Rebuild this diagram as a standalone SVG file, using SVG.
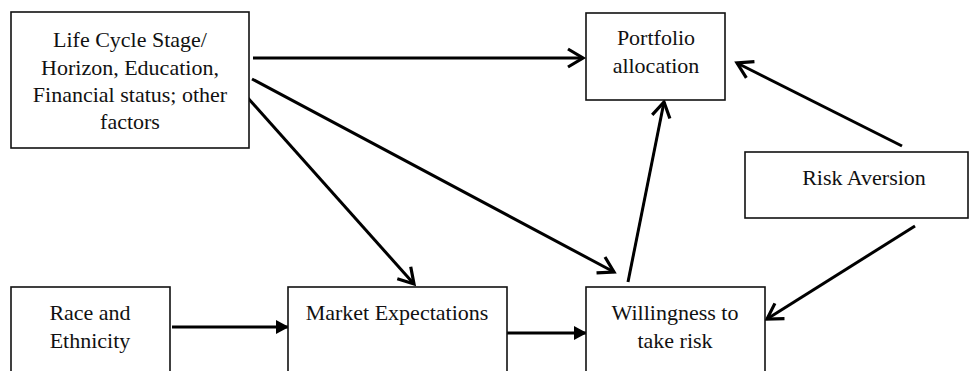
<svg xmlns="http://www.w3.org/2000/svg" width="970" height="371" viewBox="0 0 970 371">
<style>
.box{fill:#fff;stroke:#111;stroke-width:1.6}
.t{font-family:"Liberation Serif","Times New Roman",serif;font-size:22px;fill:#111;text-anchor:middle}
.c{fill:none;stroke:#000;stroke-width:3}
</style>
<defs>
<marker id="open" markerUnits="userSpaceOnUse" markerWidth="24" markerHeight="24" refX="16" refY="10" orient="auto" overflow="visible">
<path d="M1,1 L16,10 L1,19" fill="none" stroke="#000" stroke-width="3.2" stroke-linejoin="miter"/>
</marker>
<marker id="fill" markerUnits="userSpaceOnUse" markerWidth="16" markerHeight="16" refX="13" refY="7" orient="auto">
<path d="M0,0 L13,7 L0,14 z" fill="#000"/>
</marker>
</defs>
<rect width="970" height="371" fill="#fff"/>
<g id="connectors">
<line class="c" x1="253" y1="58" x2="583" y2="58" marker-end="url(#open)"/>
<line class="c" x1="252" y1="79" x2="614" y2="272" marker-end="url(#open)"/>
<line class="c" x1="247" y1="97" x2="414" y2="284" marker-end="url(#open)"/>
<line class="c" x1="902" y1="146" x2="737" y2="63" marker-end="url(#open)"/>
<line class="c" x1="915" y1="226" x2="767" y2="319" marker-end="url(#open)"/>
<line class="c" x1="628" y1="282" x2="664" y2="102" marker-end="url(#open)"/>
<line class="c" x1="172" y1="327" x2="289" y2="327" marker-end="url(#fill)"/>
<line class="c" x1="507" y1="333" x2="587" y2="333" marker-end="url(#fill)"/>
</g>
<g id="lifecycle">
<rect class="box" x="11" y="12" width="238" height="136"/>
<text class="t" x="130" y="47">Life Cycle Stage/</text>
<text class="t" x="130" y="75">Horizon, Education,</text>
<text class="t" x="130" y="102">Financial status; other</text>
<text class="t" x="130" y="129">factors</text>
</g>
<g id="portfolio">
<rect class="box" x="586" y="13" width="139" height="87"/>
<text class="t" x="656" y="45">Portfolio</text>
<text class="t" x="656" y="73">allocation</text>
</g>
<g id="riskaversion">
<rect class="box" x="745" y="152" width="223" height="66"/>
<text class="t" x="864" y="185">Risk Aversion</text>
</g>
<g id="race">
<rect class="box" x="11" y="287" width="159" height="100"/>
<text class="t" x="90" y="320">Race and</text>
<text class="t" x="90" y="348">Ethnicity</text>
</g>
<g id="market">
<rect class="box" x="288" y="287" width="219" height="100"/>
<text class="t" x="397" y="320">Market Expectations</text>
</g>
<g id="willingness">
<rect class="box" x="586" y="287" width="179" height="100"/>
<text class="t" x="675" y="320">Willingness to</text>
<text class="t" x="675" y="348">take risk</text>
</g>
</svg>
